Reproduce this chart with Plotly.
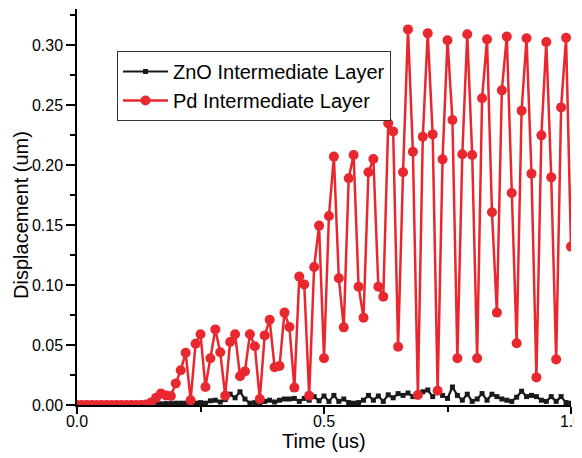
import plotly.graph_objects as go

time_us = [round(i * 0.01, 2) for i in range(101)]

zno_disp = [0.0] * 15 + [
    0.0005, 0.001, 0.001, 0.0012, 0.0012, 0.0015, 0.0015, 0.0015, 0.0015, 0.0015,  # 0.15-0.24
    0.002, 0.0015, 0.0035, 0.004, 0.0025, 0.0045, 0.009, 0.006, 0.011, 0.005,     # 0.25-0.34
    0.0015, 0.002, 0.0015, 0.003, 0.004, 0.0025, 0.004, 0.005, 0.005, 0.0055,    # 0.35-0.44
    0.003, 0.0055, 0.004, 0.007, 0.0035, 0.0075, 0.003, 0.008, 0.003, 0.005,      # 0.45-0.54
    0.002, 0.0015, 0.002, 0.004, 0.008, 0.004, 0.0075, 0.003, 0.0085, 0.006,      # 0.55-0.64
    0.0095, 0.008, 0.01, 0.007, 0.009, 0.011, 0.0125, 0.007, 0.011, 0.008,        # 0.65-0.74
    0.0055, 0.015, 0.008, 0.004, 0.009, 0.003, 0.005, 0.0095, 0.004, 0.009,       # 0.75-0.84
    0.007, 0.005, 0.004, 0.003, 0.0065, 0.0115, 0.007, 0.008, 0.007, 0.004,      # 0.85-0.94
    0.003, 0.007, 0.003, 0.007, 0.002, 0.0015,                                    # 0.95-1.00
]

pd_disp = [0.0] * 14 + [
    0.0005, 0.002, 0.006, 0.0095, 0.008, 0.0075,                                  # 0.14-0.19
    0.018, 0.029, 0.0435, 0.004, 0.051, 0.059, 0.015, 0.039, 0.063, 0.044,        # 0.20-0.29
    0.0078, 0.0525, 0.059, 0.024, 0.028, 0.059, 0.049, 0.005, 0.058, 0.071,       # 0.30-0.39
    0.0315, 0.0325, 0.077, 0.065, 0.0145, 0.107, 0.1005, 0.0078, 0.115, 0.1495,   # 0.40-0.49
    0.039, 0.1575, 0.207, 0.1056, 0.0647, 0.189, 0.2083, 0.0986, 0.0728, 0.194,   # 0.50-0.59
    0.205, 0.0986, 0.0903, 0.2347, 0.228, 0.0486, 0.194, 0.313, 0.211, 0.0083,    # 0.60-0.69
    0.2236, 0.3097, 0.2255, 0.0119, 0.2047, 0.304, 0.2375, 0.039, 0.2089, 0.309,  # 0.70-0.79
    0.2083, 0.039, 0.2556, 0.3047, 0.1606, 0.077, 0.2622, 0.307, 0.1767, 0.0514,  # 0.80-0.89
    0.2453, 0.3056, 0.1928, 0.023, 0.2247, 0.3025, 0.1897, 0.038, 0.248, 0.306,   # 0.90-0.99
    0.132,                                                                        # 1.00
]

x_ticks = [0.0, 0.5, 1.0]
x_tick_labels = ["0.0", "0.5", "1.0"]
y_ticks = [0.0, 0.05, 0.10, 0.15, 0.20, 0.25, 0.30]
y_tick_labels = ["0.00", "0.05", "0.10", "0.15", "0.20", "0.25", "0.30"]
x_title = "Time (us)"
y_title = "Displacement (um)"

RED = "#E8282E"
FONT = "Liberation Sans, Arial, sans-serif"

fig = go.Figure()
fig.add_trace(go.Scatter(
    x=time_us, y=zno_disp, mode="lines+markers", name="ZnO Intermediate Layer",
    line=dict(color="#1a1a1a", width=2.2),
    marker=dict(symbol="square", size=5, color="#1a1a1a"),
))
fig.add_trace(go.Scatter(
    x=time_us, y=pd_disp, mode="lines+markers", name="Pd Intermediate Layer",
    line=dict(color=RED, width=2.5),
    marker=dict(symbol="circle", size=10, color=RED),
))

# page body has an 8px margin, so offsets are compensated here
fig.update_layout(
    width=582, height=458,
    margin=dict(l=69, r=19, t=1, b=61, autoexpand=False),
    paper_bgcolor="white", plot_bgcolor="white",
    font=dict(family=FONT, color="black", size=16),
    showlegend=True,
    legend=dict(
        x=0.081, y=0.894, xanchor="left", yanchor="top",
        bgcolor="white", bordercolor="#333333", borderwidth=1,
        font=dict(family=FONT, size=20, color="black"),
        tracegroupgap=0, itemwidth=45,
    ),
    annotations=[
        dict(text=x_title, xref="paper", yref="paper", x=0.5, y=-0.09,
             xanchor="center", yanchor="middle", showarrow=False,
             font=dict(family=FONT, size=20, color="black")),
        dict(text=y_title, xref="paper", yref="paper", x=-0.1134, y=0.48,
             xanchor="center", yanchor="middle", showarrow=False, textangle=-90,
             font=dict(family=FONT, size=20, color="black")),
    ],
)
fig.update_xaxes(
    range=[0, 1.0], tickvals=x_ticks, ticktext=x_tick_labels, automargin=False,
    ticklabeloverflow="allow", ticklabelstandoff=-6,
    showline=True, linecolor="black", linewidth=1.5, mirror=False,
    ticks="outside", ticklen=7, tickwidth=1.5, tickcolor="black",
    minor=dict(tickvals=[0.25, 0.75], ticks="outside", ticklen=5, tickwidth=1.5, tickcolor="black"),
    showgrid=False, zeroline=False,
    tickfont=dict(family=FONT, size=16),
)
fig.update_yaxes(
    range=[0, 0.33], tickvals=y_ticks, ticktext=y_tick_labels, automargin=False,
    ticklabeloverflow="allow",
    showline=True, linecolor="black", linewidth=1.5, mirror=False,
    ticks="outside", ticklen=9, tickwidth=1.5, tickcolor="black",
    minor=dict(tickvals=[0.025, 0.075, 0.125, 0.175, 0.225, 0.275, 0.325],
               ticks="outside", ticklen=5, tickwidth=1.5, tickcolor="black"),
    showgrid=False, zeroline=False,
    tickfont=dict(family=FONT, size=16),
)

fig.write_html("out.html")
